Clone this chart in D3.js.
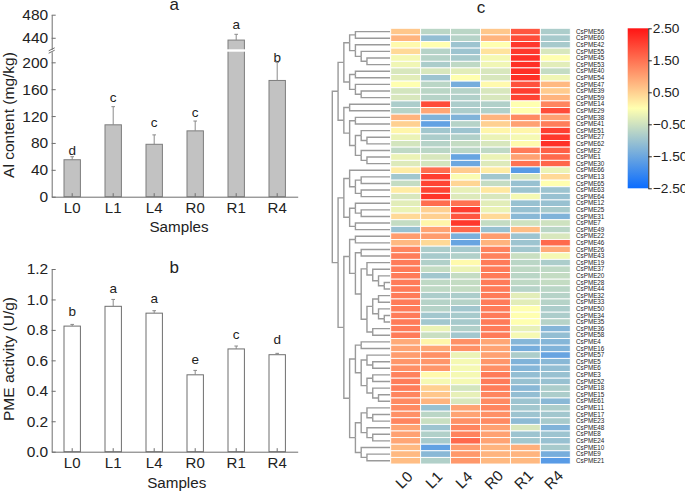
<!DOCTYPE html>
<html>
<head>
<meta charset="utf-8">
<script src="https://cdn.jsdelivr.net/npm/d3@7"></script>
<style>
    html, body { margin: 0; padding: 0; background: #fff; }
    svg { display: block; }
    text { font-family: "Liberation Sans", Arial, sans-serif; fill: #222; }
</style>
</head>
<body>
<div id="chart"></div>
<script>
const samples = ['L0', 'L1', 'L4', 'R0', 'R1', 'R4'];

// panel a, Al content
const alValues = [55, 107, 78, 98, 436, 173];
const alErrorTop = [59.5, 134, 92, 112.6, 446, 200];
const alLetters = ['d', 'c', 'c', 'c', 'a', 'b'];
const alLetterAt = [62, 141, 103, 119, 455, 200];
const alTicksLow = [0, 40, 80, 120, 160, 200];
const alTicksHigh = [440, 480];

// panel b, PME activity
const pmeValues = [0.825, 0.955, 0.91, 0.505, 0.675, 0.637];
const pmeErrorTop = [0.836, 1.0, 0.926, 0.534, 0.694, 0.646];
const pmeLetters = ['b', 'a', 'a', 'e', 'c', 'd'];
const pmeLetterAt = [0.89, 1.045, 0.975, 0.576, 0.742, 0.706];
const pmeTicks = [0, 0.2, 0.4, 0.6, 0.8, 1.0, 1.2];

// panel c, heatmap rows top to bottom
const geneIds = [56, 60, 42, 55, 45, 53, 40, 54, 47, 39, 59, 14, 29, 38, 41, 51, 27, 62, 2, 1, 30, 66, 13,
    65, 63, 64, 12, 25, 31, 7, 49, 22, 46, 26, 43, 19, 37, 20, 28, 44, 32, 33, 50, 34, 35, 36, 58, 4, 16,
    57, 5, 6, 3, 52, 18, 15, 61, 11, 17, 23, 48, 8, 24, 10, 9, 21];

const heatValues = [
    [0.6, -0.7, -0.7, 0.6, 1.8, -0.85],
    [0.8, -1.1, -0.75, 0.8, 1.9, -0.9],
    [0.05, 0.0, -1.0, 0.0, 2.12, -0.9],
    [0.4, -0.75, -1.0, 0.3, 2.12, -0.4],
    [-0.1, -0.75, -0.9, -0.1, 2.2, 0.0],
    [-0.15, -0.85, -0.65, -0.15, 2.2, -0.3],
    [-0.4, -0.4, -0.3, -0.4, 2.2, -0.6],
    [-0.3, -1.0, 0.0, -0.4, 2.2, -0.15],
    [0.0, -0.7, -1.4, 0.05, 1.85, 0.75],
    [-0.45, -0.7, -0.75, -0.4, 2.05, 0.55],
    [-0.4, -0.75, -0.8, -0.4, 2.0, 0.8],
    [-0.85, 1.9, -0.85, -0.8, 0.0, 1.3],
    [-0.75, 0.95, -0.85, -0.8, 0.0, 1.9],
    [0.8, -1.3, -1.3, 0.8, 1.25, 1.0],
    [0.5, -1.6, -0.75, 0.5, 1.0, 1.38],
    [0.1, -0.95, -1.0, 0.1, 0.1, 2.05],
    [-0.2, -0.85, -0.8, -0.2, -0.1, 2.12],
    [-0.45, -0.75, -0.6, -0.4, 0.05, 2.2],
    [-0.65, -0.7, -0.7, -0.65, 1.4, 1.7],
    [-0.2, -0.4, -1.55, -0.2, 1.0, 1.6],
    [-0.35, -0.45, -1.5, -0.35, 1.5, 1.65],
    [0.2, 1.55, 0.55, 0.2, -1.7, -0.2],
    [-0.95, 2.05, -0.05, -0.95, -0.4, 0.4],
    [-0.6, 2.0, 0.45, -0.6, -1.05, 0.0],
    [0.2, 2.0, -0.25, 0.25, -1.0, -1.0],
    [-0.4, 2.15, -0.35, -0.4, -0.1, -1.05],
    [-0.3, 1.55, 1.5, -0.3, -1.05, -1.05],
    [-0.2, 0.5, 2.05, -0.2, -1.05, -0.9],
    [0.4, 0.5, 1.8, 0.4, -1.2, -1.3],
    [-0.6, 0.1, 2.12, -0.6, -0.5, -0.5],
    [-1.05, 0.98, 1.6, -1.05, 0.7, -0.7],
    [1.05, 1.05, -1.35, 1.05, -1.0, -0.4],
    [0.75, 0.4, -1.55, 0.8, -1.0, 1.6],
    [1.3, -0.85, -0.9, 1.33, -0.95, 0.9],
    [1.38, -0.9, -0.8, 1.33, -0.55, -0.1],
    [1.4, -0.8, 0.05, 1.4, -0.7, -0.85],
    [1.4, -0.6, -0.2, 1.4, -0.65, -0.65],
    [1.4, -0.95, -0.6, 1.4, -0.7, -0.6],
    [1.4, -0.65, -0.6, 1.4, -0.65, -0.6],
    [1.4, -0.65, -0.6, 1.4, -0.75, -0.7],
    [1.4, -0.85, -0.85, 1.4, -0.3, -0.75],
    [1.4, -0.75, -0.75, 1.4, -0.3, -0.75],
    [1.4, -0.75, -0.95, 1.4, 0.0, -0.85],
    [1.4, -0.95, -0.9, 1.4, 0.0, -0.85],
    [1.4, -0.95, -0.9, 1.4, 0.0, -0.75],
    [1.4, -0.2, -0.8, 1.4, -0.25, -1.25],
    [1.4, -0.55, -0.95, 1.4, -0.1, -1.1],
    [0.9, 0.1, 1.18, 0.95, -1.25, -1.25],
    [0.98, 0.95, 1.18, 0.98, -1.4, -1.3],
    [1.05, 1.18, -0.2, 1.0, -0.85, -1.55],
    [1.12, 1.12, -0.1, 1.12, -1.3, -1.2],
    [1.18, 1.12, -0.1, 1.18, -1.25, -1.1],
    [1.33, 0.05, -0.1, 1.4, -1.1, -1.05],
    [1.38, -0.1, -0.1, 1.4, -1.05, -1.05],
    [1.38, 0.5, -0.45, 1.38, -1.2, -0.85],
    [1.3, 0.6, -0.25, 1.3, -1.1, -0.85],
    [1.25, 0.8, -0.4, 1.25, -1.0, -1.2],
    [1.25, -1.05, 0.98, 1.3, -0.95, -0.85],
    [1.18, -0.7, 0.98, 1.18, -1.0, -0.95],
    [1.3, -0.55, 1.18, 1.25, -1.15, -0.9],
    [0.98, -1.0, 1.3, 1.0, -0.4, -1.3],
    [1.0, -0.8, 1.33, 1.0, -1.0, -1.0],
    [0.95, -0.9, 1.6, 0.98, -0.95, -1.05],
    [0.75, -1.6, 1.05, 0.8, 0.85, -0.9],
    [0.75, -1.2, 1.1, 0.8, 0.8, -1.4],
    [0.7, -0.8, 1.1, 0.75, 0.75, -1.7]
];

const legendTicks = [2.5, 1.5, 0.5, -0.5, -1.5, -2.5];

// row dendrogram, a merge is [level, left, right], a leaf is a gene id
const dendrogram = [0,
    [1,
        [2,
            [3, [4, 56, 60], [4, 42, [5, 55, [6, 45, 53]]]],
            [3, [4, 40, 54], [4, 47, [5, 39, 59]]]
        ],
        [2,
            [3, 14, 29],
            [3, [4, 38, 41], [4, [5, 51, [6, 27, 62]], [5, 2, [6, 1, 30]]]]
        ]
    ],
    [1,
        [2,
            [3, 66, [4, [5, 13, 65], [5, 63, 64]]],
            [3, [4, 12, [5, 25, 31]], [4, 7, 49]]
        ],
        [2,
            [3,
                [4, 22, 46],
                [4,
                    [5, 26, 43],
                    [5,
                        [6, 19, [7, 37, [8, 20, [9, 28, 44]]]],
                        [6, [7, [8, 32, 33], [8, 50, [9, 34, 35]]], [7, 36, 58]]
                    ]
                ]
            ],
            [3,
                [4,
                    [5, 4, 16],
                    [5, [6, 57, [7, 5, 6]], [6, [7, 3, 52], [7, 18, [8, 15, 61]]]]
                ],
                [4,
                    [5, [6, 11, [7, 17, 23]], [6, 48, [7, 8, 24]]],
                    [5, 10, [6, 9, 21]]
                ]
            ]
        ]
    ]
];

const width = 685, height = 492;
const axisColor = '#6e6e6e';

const svg = d3.select('#chart').append('svg')
    .attr('width', width)
    .attr('height', height);

function styleAxis(g) {
    g.selectAll('path, line').attr('stroke', axisColor).attr('stroke-width', 1);
    g.selectAll('text').attr('font-size', 15.5).attr('fill', '#222');
}

function sampleScale() {
    return d3.scaleBand().domain(samples).range([51.7, 297.7]);
}

function addBottomAxis(x, baseY) {
    const g = svg.append('g')
        .attr('transform', `translate(0,${baseY})`)
        .call(d3.axisBottom(x).tickSize(-3.5).tickSizeOuter(0).tickPadding(5.3));
    styleAxis(g);
    g.selectAll('text').attr('font-size', 15);
}

function addErrorBars(x, yOf, tops, values, color) {
    samples.forEach((s, i) => {
        const cx = x(s) + x.bandwidth() / 2;
        svg.append('line').attr('x1', cx).attr('x2', cx)
            .attr('y1', yOf(values[i])).attr('y2', yOf(tops[i]))
            .attr('stroke', color).attr('stroke-width', 1);
        svg.append('line').attr('x1', cx - 1.8).attr('x2', cx + 1.8)
            .attr('y1', yOf(tops[i])).attr('y2', yOf(tops[i]))
            .attr('stroke', color).attr('stroke-width', 1);
    });
}

function addLetters(x, yOf, letters, at) {
    svg.append('g').selectAll('text')
        .data(letters)
        .enter().append('text')
        .attr('x', (d, i) => x(samples[i]) + x.bandwidth() / 2)
        .attr('y', (d, i) => yOf(at[i]))
        .attr('text-anchor', 'middle')
        .attr('font-size', 13.5)
        .text(d => d);
}

function addLabel(x, y, txt, size, rotate) {
    svg.append('text')
        .attr('transform', `translate(${x},${y})` + (rotate ? ` rotate(${rotate})` : ''))
        .attr('text-anchor', 'middle')
        .attr('font-size', size)
        .text(txt);
}

// Panel a, broken y axis
function drawPanelA() {
    const x = sampleScale();
    const yLow = d3.scaleLinear().domain([0, 215.8]).range([196.7, 51.7]);
    const yHigh = d3.scaleLinear().domain([420, 480]).range([49.3, 14.7]);
    const yOf = v => v > 300 ? yHigh(v) : yLow(v);
    const barW = x.bandwidth() * 0.4;

    svg.append('g').selectAll('rect')
        .data(alValues)
        .enter().append('rect')
        .attr('x', (d, i) => x(samples[i]) + (x.bandwidth() - barW) / 2)
        .attr('width', barW)
        .attr('y', d => yOf(d))
        .attr('height', d => yLow(0) - yOf(d))
        .attr('fill', '#c2c2c2')
        .attr('stroke', '#7d7d7d');

    // white gap through the tall bar at the axis break
    alValues.forEach((v, i) => {
        if (v <= 300) return;
        svg.append('rect')
            .attr('x', x(samples[i]) + (x.bandwidth() - barW) / 2 - 1)
            .attr('width', barW + 2)
            .attr('y', yHigh(420))
            .attr('height', yLow(215.8) - yHigh(420))
            .attr('fill', '#fff');
    });
    addErrorBars(x, yOf, alErrorTop, alValues, '#8a8a8a');

    const low = svg.append('g').attr('transform', 'translate(51.7,0)')
        .call(d3.axisLeft(yLow).tickValues(alTicksLow).tickSize(-4).tickSizeOuter(0).tickPadding(3.5));
    styleAxis(low);
    const high = svg.append('g').attr('transform', 'translate(51.7,0)')
        .call(d3.axisLeft(yHigh).tickValues(alTicksHigh).tickSize(-4).tickSizeOuter(0).tickPadding(3.5));
    styleAxis(high);

    // break marks
    [yHigh(420), yLow(215.8)].forEach(py => {
        svg.append('line').attr('x1', 48.7).attr('x2', 54.7)
            .attr('y1', py + 1.5).attr('y2', py - 1.5)
            .attr('stroke', axisColor);
    });

    addBottomAxis(x, 196.7);
    addLetters(x, yOf, alLetters, alLetterAt);
    addLabel(174.3, 9.5, 'a', 17);
    addLabel(179, 232, 'Samples', 15.2);
    addLabel(14.2, 115, 'Al content (mg/kg)', 15.5, -90);
}

// Panel b
function drawPanelB() {
    const x = sampleScale();
    const y = d3.scaleLinear().domain([0, 1.2]).range([451.7, 269]);
    const barW = x.bandwidth() * 0.4;

    svg.append('g').selectAll('rect')
        .data(pmeValues)
        .enter().append('rect')
        .attr('x', (d, i) => x(samples[i]) + (x.bandwidth() - barW) / 2)
        .attr('width', barW)
        .attr('y', d => y(d))
        .attr('height', d => y(0) - y(d))
        .attr('fill', '#fff')
        .attr('stroke', '#6e6e6e');
    addErrorBars(x, y, pmeErrorTop, pmeValues, '#8a8a8a');

    const ax = svg.append('g').attr('transform', 'translate(51.7,0)')
        .call(d3.axisLeft(y).tickValues(pmeTicks).tickFormat(d3.format('.1f'))
            .tickSize(-4).tickSizeOuter(0).tickPadding(3.5));
    styleAxis(ax);

    addBottomAxis(x, 451.7);
    addLetters(x, y, pmeLetters, pmeLetterAt);
    addLabel(174.3, 272.7, 'b', 17);
    addLabel(176.7, 487.5, 'Samples', 15.2);
    addLabel(14.2, 359, 'PME activity (U/g)', 15.5, -90);
}

// Panel c, heatmap with dendrogram and legend
function drawPanelC() {
    const color = d3.scaleLinear()
        .domain([-2.5, 0, 2.5])
        .range(['#0a6cff', '#ffffb0', '#ff1414']);
    const x = d3.scaleBand().domain(samples).range([390.7, 570.3]);
    const y = d3.scaleBand().domain(geneIds).range([28.3, 464]);
    const level = d3.scaleLinear().domain([0, 9]).range([332.3, 384.3]);

    const row = svg.append('g').selectAll('g')
        .data(heatValues)
        .enter().append('g')
        .attr('transform', (d, i) => `translate(0,${y(geneIds[i])})`);

    row.selectAll('rect')
        .data(d => d)
        .enter().append('rect')
        .attr('x', (d, i) => x(samples[i]))
        .attr('width', x.bandwidth())
        .attr('height', y.bandwidth())
        .attr('fill', d => color(d))
        .attr('stroke', '#fff')
        .attr('stroke-width', 0.9);

    svg.append('g').selectAll('text')
        .data(geneIds)
        .enter().append('text')
        .attr('x', 576)
        .attr('y', d => y(d) + y.bandwidth() / 2)
        .attr('dy', '.35em')
        .attr('font-size', 6.3)
        .attr('fill', '#333')
        .text(d => 'CsPME' + d);

    // dendrogram
    const root = d3.hierarchy(dendrogram, d => Array.isArray(d) ? d.slice(1) : null);
    root.eachAfter(n => {
        if (n.children) {
            n.py = d3.mean(n.children, c => c.py);
            n.px = level(n.data[0]);
        } else {
            n.py = y(n.data) + y.bandwidth() / 2;
            n.px = 390;
        }
    });
    const links = [];
    root.each(n => {
        if (!n.children) return;
        n.children.forEach(c => {
            links.push(`M${n.px},${n.py}V${c.py}H${c.px}`);
        });
    });
    svg.append('g').selectAll('path')
        .data(links)
        .enter().append('path')
        .attr('d', d => d)
        .attr('fill', 'none')
        .attr('stroke', '#9a9a9a')
        .attr('stroke-width', 1.4);

    // column labels
    svg.append('g').selectAll('text')
        .data(samples)
        .enter().append('text')
        .attr('transform', d => `translate(${x(d) + x.bandwidth() / 2 + 2},483.5) rotate(-45)`)
        .attr('text-anchor', 'middle')
        .attr('font-size', 15)
        .text(d => d);

    addLabel(481, 13, 'c', 17);

    // legend
    const legendY = d3.scaleLinear().domain([-2.5, 2.5]).range([188.3, 28.3]);
    const grad = svg.append('defs').append('linearGradient')
        .attr('id', 'legend-grad')
        .attr('x1', 0).attr('x2', 0).attr('y1', 1).attr('y2', 0);
    grad.selectAll('stop')
        .data(color.domain())
        .enter().append('stop')
        .attr('offset', d => (d + 2.5) / 5)
        .attr('stop-color', d => color(d));

    svg.append('rect')
        .attr('x', 627.7).attr('y', 28.3)
        .attr('width', 20.6).attr('height', 160)
        .attr('fill', 'url(#legend-grad)');

    const ax = svg.append('g').attr('transform', 'translate(648.3,0)')
        .call(d3.axisRight(legendY).tickValues(legendTicks).tickFormat(d3.format('.2f'))
            .tickSize(3.5).tickSizeOuter(0).tickPadding(1));
    ax.selectAll('path, line').attr('stroke', '#222');
    ax.selectAll('text').attr('font-size', 13.7).attr('fill', '#222');
}

drawPanelA();
drawPanelB();
drawPanelC();
</script>
</body>
</html>
